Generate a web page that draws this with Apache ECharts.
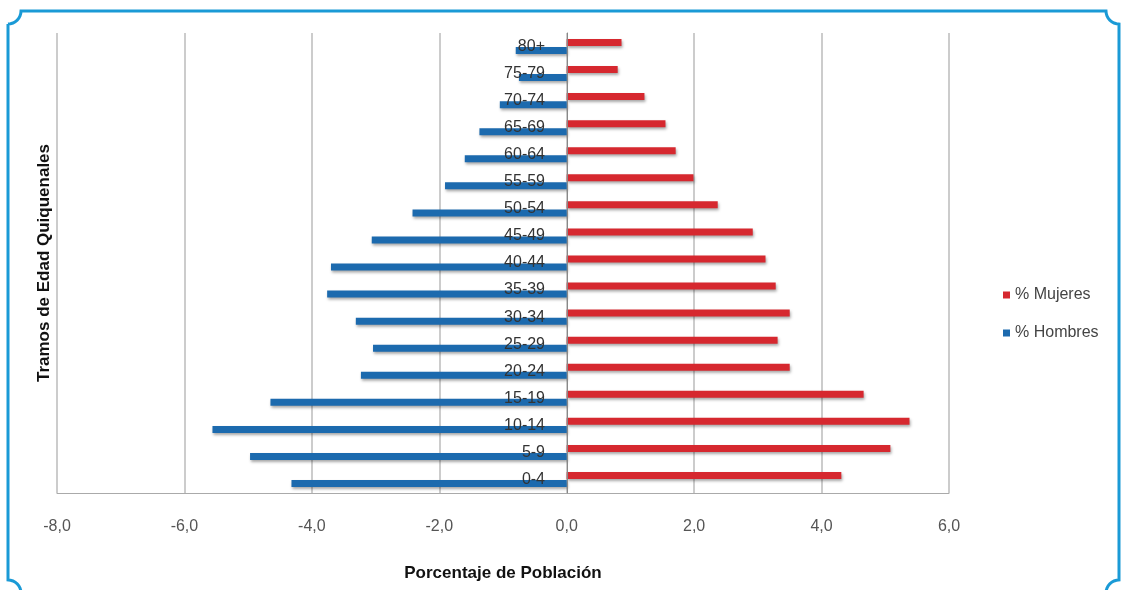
<!DOCTYPE html>
<html>
<head>
<meta charset="utf-8">
<script src="https://cdn.jsdelivr.net/npm/echarts@6/dist/echarts.min.js"></script>
<style>html,body{margin:0;padding:0;background:#fff;}#c{width:1121px;height:590px;}</style>
</head>
<body>
<div id="c"></div>
<script>
var categories = ['0-4','5-9','10-14','15-19','20-24','25-29','30-34','35-39','40-44','45-49','50-54','55-59','60-64','65-69','70-74','75-79','80+'];
var mujeres = [4.31, 5.08, 5.38, 4.66, 3.50, 3.31, 3.50, 3.28, 3.12, 2.92, 2.37, 1.99, 1.71, 1.55, 1.22, 0.80, 0.86];
var hombres = [-4.32, -4.97, -5.56, -4.65, -3.23, -3.04, -3.31, -3.76, -3.70, -3.06, -2.42, -1.91, -1.60, -1.37, -1.05, -0.75, -0.80];
var seriesNames = ['% Mujeres', '% Hombres'];
var axisTitles = { x: 'Porcentaje de Población', y: 'Tramos de Edad Quiquenales' };
var xTicks = { min: -8, max: 6, interval: 2 };

function framePoints() {
  var L = 8, T = 11, R = 1119, B = 593, r = 13, pts = [];
  function arc(cx, cy, a0, a1) {
    for (var i = 0; i <= 8; i++) {
      var a = (a0 + (a1 - a0) * i / 8) * Math.PI / 180;
      pts.push([cx + r * Math.cos(a), cy + r * Math.sin(a)]);
    }
  }
  arc(L, T, 90, 0);
  arc(R, T, 180, 90);
  arc(R, B, 270, 180);
  arc(L, B, 0, -90);
  pts.push(pts[0]);
  return pts;
}

var chart = echarts.init(document.getElementById('c'));
var barShadow = { shadowBlur: 3, shadowColor: 'rgba(0,0,0,0.35)', shadowOffsetX: 1, shadowOffsetY: 2 };
chart.setOption({
  animation: false,
  textStyle: { fontFamily: 'Liberation Sans, Arial, sans-serif' },
  graphic: [{
    type: 'polyline', silent: true,
    shape: { points: framePoints() },
    style: { stroke: '#1a9ad6', lineWidth: 3, fill: null }
  }],
  grid: { left: 57, right: 172, top: 33, bottom: 97, containLabel: false, outerBoundsMode: 'none' },
  legend: {
    data: seriesNames, orient: 'vertical', left: 998, top: 282,
    itemWidth: 7, itemHeight: 7, itemGap: 22, icon: 'rect',
    textStyle: { color: '#444', fontSize: 16 }
  },
  xAxis: {
    type: 'value', min: xTicks.min, max: xTicks.max, interval: xTicks.interval,
    name: axisTitles.x, nameLocation: 'middle', nameGap: 72,
    nameTextStyle: { color: '#111', fontSize: 17, fontWeight: 'bold' },
    axisLine: { show: true, lineStyle: { color: '#aaa' } },
    axisTick: { show: false },
    axisLabel: { margin: 26, color: '#555', fontSize: 16,
      formatter: function (v) { return v.toFixed(1).replace('.', ','); } },
    splitLine: { show: true, lineStyle: { color: '#bbb', width: 1.5 } }
  },
  yAxis: {
    type: 'category', data: categories, position: 'left', offset: -510, z: 5,
    name: axisTitles.y, nameLocation: 'middle', nameGap: 514,
    nameTextStyle: { color: '#111', fontSize: 17, fontWeight: 'bold' },
    axisLine: { show: true, onZero: false, lineStyle: { color: '#888' } },
    axisTick: { show: false },
    axisLabel: { margin: 22, color: '#333', fontSize: 16 }
  },
  series: [
    { name: seriesNames[0], type: 'bar', data: mujeres, barWidth: 7, barGap: '15%',
      itemStyle: Object.assign({ color: '#d6282f' }, barShadow) },
    { name: seriesNames[1], type: 'bar', data: hombres, barWidth: 7, barGap: '15%',
      itemStyle: Object.assign({ color: '#1c6aae' }, barShadow) }
  ]
});
</script>
</body>
</html>
